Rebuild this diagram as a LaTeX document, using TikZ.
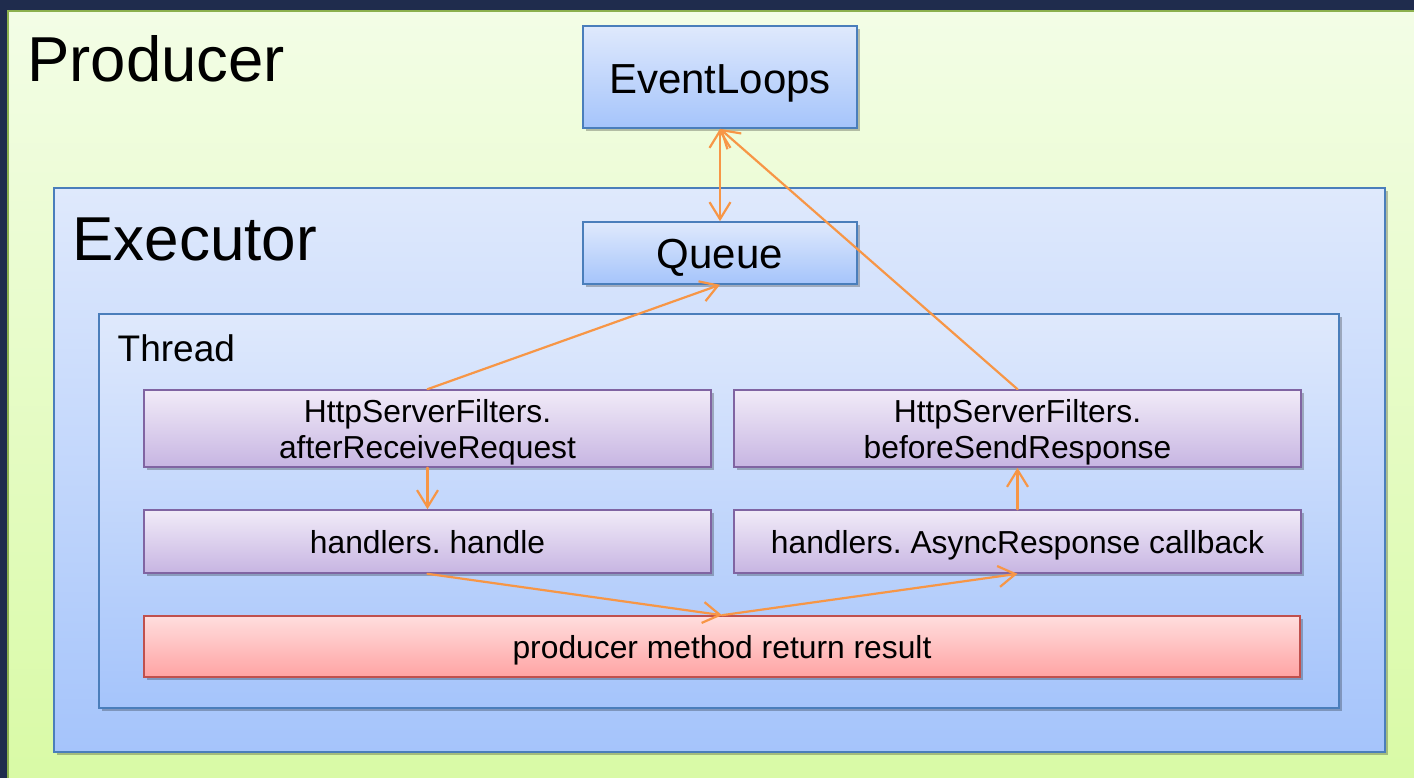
\documentclass[tikz,border=0pt]{standalone}
\usepackage{fontspec}
\setmainfont{Liberation Sans}
\usetikzlibrary{arrows.meta,shadows}

\definecolor{navy}{RGB}{31,44,77}
\definecolor{leafTop}{RGB}{243,253,230}
\definecolor{leafBot}{RGB}{216,250,164}
\definecolor{leafLine}{RGB}{140,176,78}
\definecolor{skyTop}{RGB}{223,233,252}
\definecolor{skyBot}{RGB}{165,196,251}
\definecolor{skyLine}{RGB}{74,126,187}
\definecolor{lilacTop}{RGB}{241,235,248}
\definecolor{lilacBot}{RGB}{199,181,226}
\definecolor{lilacLine}{RGB}{128,100,162}
\definecolor{roseTop}{RGB}{255,222,222}
\definecolor{roseBot}{RGB}{255,163,163}
\definecolor{roseLine}{RGB}{192,80,77}
\definecolor{flow}{RGB}{247,150,70}

\tikzset{
  softshadow/.style={drop shadow={shadow xshift=2.5pt,shadow yshift=-3pt,opacity=.25,fill=black}},
  container/.style={rectangle, inner sep=0pt, softshadow, top color=skyTop, bottom color=skyBot,
    draw=skyLine, line width=2pt},
  bluebox/.style={rectangle, inner sep=0pt, softshadow, top color=skyTop, bottom color=skyBot,
    draw=skyLine, line width=1.6pt, font=\fontsize{42}{50}\selectfont, text depth=0pt},
  stagebox/.style={rectangle, inner sep=0pt, softshadow, top color=lilacTop, bottom color=lilacBot,
    draw=lilacLine, line width=1.6pt, minimum width=567pt, align=center},
  onebox/.style={font=\fontsize{31.8}{38}\selectfont, text height=23pt, text depth=0pt},
  twobox/.style={font=\fontsize{31.8}{36}\selectfont, text height=59pt, text depth=0pt},
  resultbox/.style={rectangle, inner sep=0pt, softshadow, top color=roseTop, bottom color=roseBot,
    draw=roseLine, line width=1.6pt},
  title/.style={anchor=base west, inner sep=0pt},
  flowline/.style={draw=flow, line width=2.2pt, line cap=round, line join=round},
  tip/.style={-{Straight Barb[length=17pt,width=21pt]}},
  tips/.style={{Straight Barb[length=17pt,width=21pt]}-{Straight Barb[length=17pt,width=21pt]}}
}

\begin{document}
\frenchspacing
\begin{tikzpicture}[x=1pt,y=-1pt]
\useasboundingbox (0,0) rectangle (1414,778);

% dark backdrop and the producer panel
\fill[navy] (0,0) rectangle (1414,778);
\path[top color=leafTop, bottom color=leafBot, draw=leafLine, line width=2pt]
  (8,11) rectangle (1440,800);
\node[title, font=\fontsize{63.5}{76}\selectfont] (producerTitle) at (27,82) {Producer};

% executor and thread containers
\node[container, minimum width=1331pt, minimum height=564pt] (executor) at (719.5,470) {};
\node[title, font=\fontsize{62}{74}\selectfont] (executorTitle) at (72,261) {Executor};
\node[container, line width=1.6pt, minimum width=1240pt, minimum height=394pt] (thread) at (719,511) {};
\node[title, font=\fontsize{37}{44}\selectfont] (threadTitle) at (117.5,361) {Thread};

% event loops and queue
\node[bluebox, minimum width=274pt, minimum height=102pt, text height=33.6pt] (loops) at (720,77) {EventLoops};
\node[bluebox, minimum width=274pt, minimum height=62pt, text height=30.6pt] (queue) at (720,253) {Queue};

% processing stages
\node[stagebox, twobox, minimum height=77pt] (afterRecv) at (427.5,428.5) {HttpServerFilters.\\afterReceiveRequest};
\node[stagebox, twobox, minimum height=77pt] (beforeSend) at (1017.5,428.5) {HttpServerFilters.\\beforeSendResponse};
\node[stagebox, onebox, minimum height=63pt] (handle) at (427.5,541.5) {handlers. handle};
\node[stagebox, onebox, minimum height=63pt] (async) at (1017.5,541.5) {handlers. AsyncResponse callback};
\node[resultbox, onebox, minimum width=1156pt, minimum height=61pt] (result) at (722,646.5) {producer method return result};

% flow
\draw[flowline, tips] (loops.south) -- (queue.north);
\draw[flowline, tip] (afterRecv.north) -- (queue.south);
\draw[flowline, tip] (afterRecv.south) -- (handle.north);
\draw[flowline, tip] (handle.south) -- (result.north);
\draw[flowline, tip] (result.north) -- (async.south);
\draw[flowline, tip] (async.north) -- (beforeSend.south);
\draw[flowline, tip] (beforeSend.north) -- (loops.south);
\end{tikzpicture}
\end{document}
